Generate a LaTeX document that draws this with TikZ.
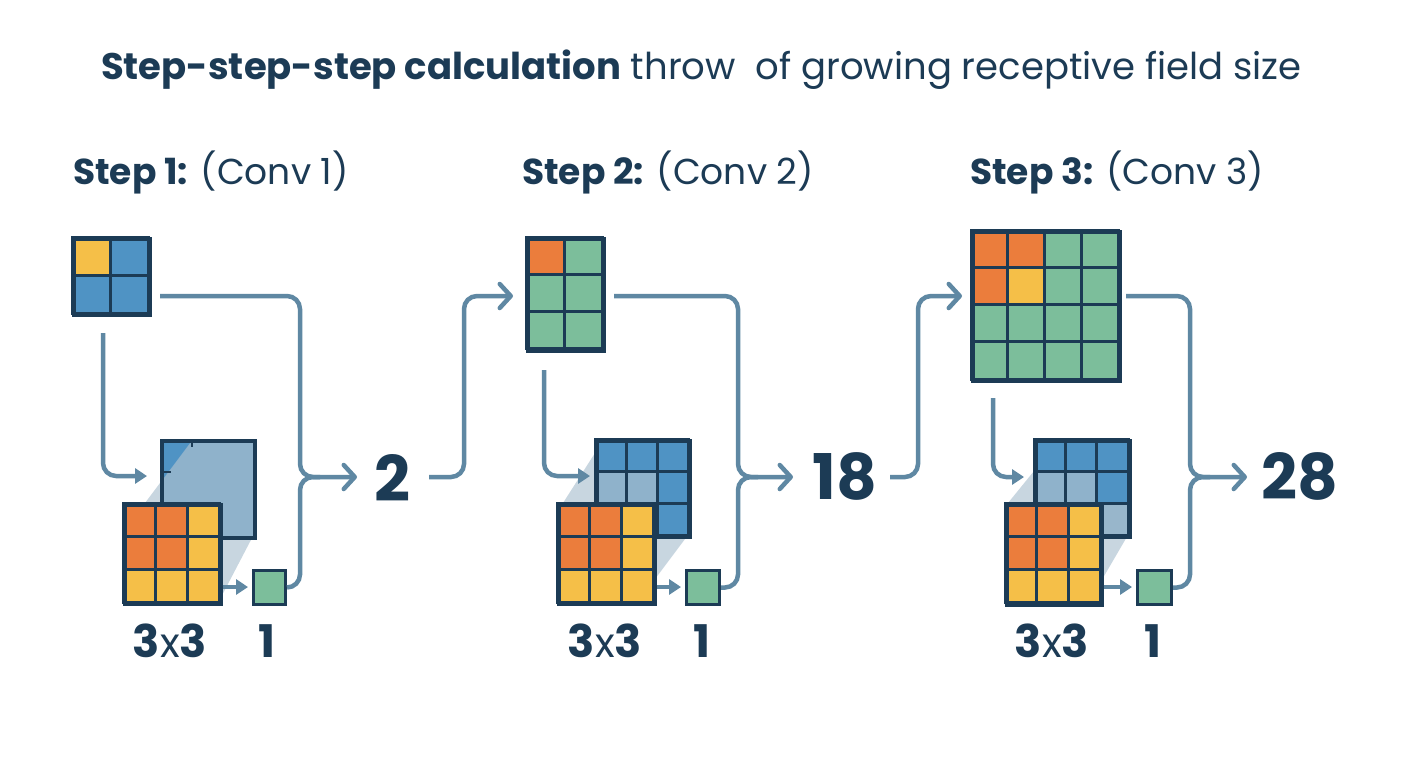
\documentclass[tikz,border=0pt]{standalone}
\usepackage{fontspec}
\setmainfont{Poppins}
\usetikzlibrary{arrows.meta}
\definecolor{navy}{HTML}{1C3B55}
\definecolor{conn}{HTML}{5F88A3}
\definecolor{blueC}{HTML}{4F93C4}
\definecolor{yellowC}{HTML}{F5BF48}
\definecolor{orangeC}{HTML}{EB7D3C}
\definecolor{greenC}{HTML}{7CBE9B}
\definecolor{lightC}{HTML}{8FB2CB}
\definecolor{lighterC}{HTML}{98B6CB}
\definecolor{wedgeC}{HTML}{C8D6E0}
\newcommand\gc[5]{\filldraw[fill=#5,draw=navy,line width=3pt] (#1,#2) rectangle ++(#3,#4);}
\tikzset{
  conn/.style={draw=conn,line width=4.5pt,rounded corners=13pt},
  chev/.style={conn,-{Straight Barb[length=11pt,width=24pt,round]}},
  tri/.style={conn,-{Triangle[length=12pt,width=15pt]}},
  gridbox/.style={draw=navy,line width=3.5pt,inner sep=0pt,anchor=north west},
  title/.style={text=navy,font=\fontsize{37}{44}\selectfont,anchor=base west,inner sep=0pt},
  steplabel/.style={text=navy,font=\fontsize{36}{42}\selectfont,anchor=base west,inner sep=0pt},
  bignum/.style={text=navy,font=\fontsize{63}{70}\selectfont\bfseries,inner sep=0pt},
  dimlabel/.style={text=navy,font=\fontsize{45}{50}\selectfont\bfseries,inner sep=0pt},
  wedge/.style={fill=wedgeC,draw=none}
}
\begin{document}
\begin{tikzpicture}[x=1pt,y=-1pt]
\useasboundingbox[fill=white] (0,0) rectangle (1408,768);
% title
\node[title] (t) at (101,79) {\textbf{Step-step-step calculation} throw\ \ of growing receptive field size};
\node[steplabel] (s1) at (73,184) {\textbf{Step 1:} (Conv 1)};
\node[steplabel] (s2) at (522,184) {\textbf{Step 2:} (Conv 2)};
\node[steplabel] (s3) at (970,184) {\textbf{Step 3:} (Conv 3)};

%% ===== STEP 1 =====
\gc{72}{237}{38}{38}{yellowC}\gc{110}{237}{38}{38}{blueC}
\gc{72}{275}{38}{38}{blueC}\gc{110}{275}{38}{38}{blueC}
\node[gridbox,minimum width=76pt,minimum height=76pt] (a1) at (72,237) {};
\fill[wedgeC] (145,503) -- (160,483) -- (160,503) -- cycle;
\fill[wedgeC] (218,536) -- (253,536) -- (218,603) -- cycle;
\fill[lightC] (160,439) rectangle (253,536);
\fill[blueC] (160,439) -- (193,439) -- (160,483) -- cycle;
\draw[navy,line width=2.5pt] (160,472) -- (171,472) (192,439) -- (192,447);
\node[gridbox,minimum width=93pt,minimum height=97pt] (b1) at (160,439) {};
\foreach \c/\r/\col in {0/0/orangeC,1/0/orangeC,2/0/yellowC,0/1/orangeC,1/1/orangeC,2/1/yellowC,0/2/yellowC,1/2/yellowC,2/2/yellowC}{
  \gc{123+\c*32}{503+\r*33}{32}{33}{\col}}
\node[gridbox,minimum width=96pt,minimum height=99pt] (o1) at (123,503) {};
\node[gridbox,fill=greenC,minimum width=32pt,minimum height=34pt,line width=3pt] (g1) at (252,569) {};
\coordinate (a1o) at (160,296);
\coordinate (a1d) at (103,333);
\coordinate (j1) at (300,477);
\coordinate (t1) at (357,477);
\coordinate (h1) at (147,476);
\coordinate (k1) at (248,587);
\node[bignum] (n1) at (392,478) {2};
\draw[chev] (a1o) -| (j1) -- (t1);
\draw[conn] (g1.east) -| (j1) -- ++(20,0);
\draw[tri] (a1d) |- (h1);
\draw[tri] (o1.east |- k1) -- (k1);
\node[dimlabel] (d1) at (170,641) {3{\mdseries\fontsize{41}{44}\selectfont x}3};
\node[dimlabel] (e1) at (267,641) {1};

%% ===== STEP 2 =====
\foreach \c/\r/\col in {0/0/orangeC,1/0/greenC,0/1/greenC,1/1/greenC,0/2/greenC,1/2/greenC}{
  \gc{526+\c*38}{237+\r*37.33}{38}{37.33}{\col}}
\node[gridbox,minimum width=76pt,minimum height=112pt] (a2) at (526,237) {};
\coordinate (s2a) at (429,477);
\coordinate (s2b) at (464,296);
\coordinate (in2) at (513,296);
\draw[chev] (s2a) -| (s2b) -- (in2);
\fill[wedgeC] (563,503) -- (595,453) -- (595,503) -- cycle;
\fill[wedgeC] (652,535) -- (688,535) -- (652,583) -- cycle;
\foreach \c/\r/\col in {0/0/blueC,1/0/blueC,2/0/blueC,0/1/lightC,1/1/lightC,2/1/blueC,0/2/blueC,1/2/blueC,2/2/blueC}{
  \gc{595+\c*31}{439+\r*32}{31}{32}{\col}}
\node[gridbox,minimum width=93pt,minimum height=96pt] (b2) at (595,439) {};
\foreach \c/\r/\col in {0/0/orangeC,1/0/orangeC,2/0/yellowC,0/1/orangeC,1/1/orangeC,2/1/yellowC,0/2/yellowC,1/2/yellowC,2/2/yellowC}{
  \gc{557+\c*32}{503+\r*33}{32}{33}{\col}}
\node[gridbox,minimum width=96pt,minimum height=99pt] (o2) at (557,503) {};
\node[gridbox,fill=greenC,minimum width=33pt,minimum height=34pt,line width=3pt] (g2) at (685,569) {};
\coordinate (a2o) at (614,296);
\coordinate (a2d) at (544,370);
\coordinate (j2) at (738,477);
\coordinate (t2) at (793,477);
\coordinate (h2) at (590,476);
\coordinate (k2) at (681,587);
\node[bignum] (n2) at (845,476) {18};
\draw[chev] (a2o) -| (j2) -- (t2);
\draw[conn] (g2.east) -| (j2) -- ++(20,0);
\draw[tri] (a2d) |- (h2);
\draw[tri] (o2.east |- k2) -- (k2);
\node[dimlabel] (d2) at (605,641) {3{\mdseries\fontsize{41}{44}\selectfont x}3};
\node[dimlabel] (e2) at (702,641) {1};

%% ===== STEP 3 =====
\foreach \c/\r/\col in {0/0/orangeC,1/0/orangeC,2/0/greenC,3/0/greenC,0/1/orangeC,1/1/yellowC,2/1/greenC,3/1/greenC,0/2/greenC,1/2/greenC,2/2/greenC,3/2/greenC,0/3/greenC,1/3/greenC,2/3/greenC,3/3/greenC}{
  \gc{971+\c*36.75}{230+\r*37.25}{36.75}{37.25}{\col}}
\node[gridbox,minimum width=147pt,minimum height=149pt] (a3) at (971,230) {};
\coordinate (s3a) at (890,477);
\coordinate (s3b) at (918,296);
\coordinate (in3) at (962,296);
\draw[chev] (s3a) -| (s3b) -- (in3);
\fill[wedgeC] (1008,503) -- (1034,471) -- (1034,503) -- cycle;
\fill[wedgeC] (1100,535) -- (1128,535) -- (1100,583) -- cycle;
\foreach \c/\r/\col in {0/0/blueC,1/0/blueC,2/0/blueC,0/1/lightC,1/1/lightC,2/1/blueC,0/2/blueC,1/2/blueC,2/2/lighterC}{
  \gc{1034+\c*31.33}{439+\r*32}{31.33}{32}{\col}}
\node[gridbox,minimum width=94pt,minimum height=96pt] (b3) at (1034,439) {};
\foreach \c/\r/\col in {0/0/orangeC,1/0/orangeC,2/0/yellowC,0/1/orangeC,1/1/orangeC,2/1/yellowC,0/2/yellowC,1/2/yellowC,2/2/yellowC}{
  \gc{1005+\c*31.67}{503+\r*33.33}{31.67}{33.33}{\col}}
\node[gridbox,minimum width=95pt,minimum height=100pt] (o3) at (1005,503) {};
\node[gridbox,fill=greenC,minimum width=34pt,minimum height=34pt,line width=3pt] (g3) at (1136,569) {};
\coordinate (a3o) at (1126,296);
\coordinate (a3d) at (993,398);
\coordinate (j3) at (1190,477);
\coordinate (t3) at (1247,477);
\coordinate (h3) at (1024,477);
\coordinate (k3) at (1132,587);
\node[bignum] (n3) at (1300,476) {28};
\draw[chev] (a3o) -| (j3) -- (t3);
\draw[conn] (g3.east) -| (j3) -- ++(20,0);
\draw[tri] (a3d) |- (h3);
\draw[tri] (o3.east |- k3) -- (k3);
\node[dimlabel] (d3) at (1052,641) {3{\mdseries\fontsize{41}{44}\selectfont x}3};
\node[dimlabel] (e3) at (1153,641) {1};
\end{tikzpicture}
\end{document}
